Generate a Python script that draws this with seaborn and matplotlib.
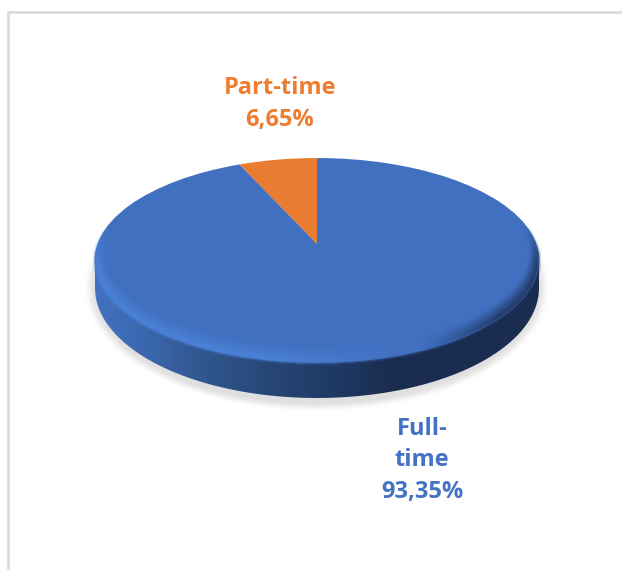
#!/usr/bin/python3

import numpy as np
import seaborn as sns
from matplotlib import pyplot as plt
from matplotlib.colors import LinearSegmentedColormap, to_rgb
from matplotlib.path import Path
from matplotlib.patches import PathPatch
from matplotlib.transforms import Transform

categories = ['Part-time', 'Full-time']
label_names = ['Part-time', 'Full-\ntime']
shares = [6.65, 93.35]
slice_colors = ['#E97C30', '#4170C1']
text_colors = ['#ED7D31', '#4472C4']

sns.set_theme(style='white')
plt.rcParams['font.family'] = ['Open Sans', 'DejaVu Sans']

W, H = 622, 570
cx, cy = 317, 244   # where the slices meet


class Tilt(Transform):
    # perspective view of the unit circle, in pixels
    input_dims = 2
    output_dims = 2

    def transform_non_affine(self, values):
        k = 0.161
        u, v = values[:, 0], values[:, 1]
        return np.column_stack([cx + 219.6 * u / (1 + k * v),
                                cy - 99.8 * v / (1 + k * v)])


fig = plt.figure(figsize=(W / 100, H / 100), dpi=100)
ax = fig.add_axes([0, 0, 1, 1])

wedges, _ = ax.pie(shares, colors=slice_colors, startangle=90,
                   wedgeprops={'linewidth': 0, 'zorder': 3})
for w in wedges:
    w.set_transform(Tilt() + ax.transData)

xx, yy = np.meshgrid(np.arange(W) + 0.5, np.arange(H) + 0.5)
extent = (0, W, H, 0)


def ell(x0, y0, rx, ry):
    return np.sqrt(((xx - x0) / rx) ** 2 + ((yy - y0) / ry) ** 2)


def soften(a, n=5):
    kernel = np.ones(n) / n
    a = np.apply_along_axis(np.convolve, 0, a, kernel, mode='same')
    return np.apply_along_axis(np.convolve, 1, a, kernel, mode='same')


# soft shadow under the disc
f = ell(cx, 288, 231, 121)
img = np.ones((H, W, 4))
img[..., :3] = 0.875
img[..., 3] = soften(np.clip((1 - f) / 0.035, 0, 1), 7)
ax.imshow(img, extent=extent, aspect='auto', zorder=1, interpolation='bilinear')

# side of the disc, dark towards the right
rim_cmap = LinearSegmentedColormap.from_list('rim', [
    (0.0, '#4372C0'), (0.12, '#3A66AC'), (0.24, '#31568F'), (0.38, '#284878'),
    (0.53, '#1F3A66'), (0.65, '#1B2E52'), (1.0, '#1A2C50')])
t = np.linspace(np.pi, 2 * np.pi, 80)
rim_x = cx + 222 * np.cos(t)
rim_y = 288 - 110 * np.sin(t)
edge_x = np.r_[rim_x, rim_x[::-1]]
edge_y = np.r_[rim_y, 260.5 + 0 * rim_y]
rim_clip = PathPatch(Path(np.column_stack([edge_x, edge_y])), transform=ax.transData)
rim = ax.imshow(((xx - 95) / 445).clip(0, 1), extent=extent, aspect='auto',
                cmap=rim_cmap, vmin=0, vmax=1, zorder=2)
rim.set_clip_path(rim_clip)

# rounded edge of the top face
f_in = ell(cx, 252.5, 212, 94.5)
f_out = ell(cx, 260.5, 222.5, 102.5)
band = np.clip((f_in - 1) / np.maximum(f_in - f_out, 1e-6), 0, 1)
light, dark = np.array(to_rgb('#4C85DB')), np.array(to_rgb('#1C3157'))
base = np.array(to_rgb(slice_colors[1]))
to_base = np.clip((xx - 270) / 130, 0, 1)[..., None]
to_dark = np.clip((xx - 420) / 80, 0, 1)[..., None]
img = np.zeros((H, W, 4))
img[..., :3] = (light * (1 - to_base) + base * to_base) * (1 - to_dark) + dark * to_dark
img[..., 3] = soften(band * np.clip((yy - 225) / 35, 0, 1) * (f_out < 1.0))
ax.imshow(img, extent=extent, aspect='auto', zorder=4, interpolation='bilinear')

# labels
label_pos = [(280, 104), (422, 460.5)]
for name, share, col, (x, y) in zip(label_names, shares, text_colors, label_pos):
    ax.text(x, y, '{}\n{:.2f}%'.format(name, share).replace('.', ','), color=col,
            fontsize=17, fontweight='bold', ha='center', va='center',
            linespacing=1.44, zorder=5)

# frame remains of the screenshot
ax.plot([7.5, 7.5, W], [H, 11.5, 11.5], color='#DADADA', lw=1.9, zorder=6,
        solid_joinstyle='miter')

ax.set_aspect('auto')
ax.set_xlim(0, W)
ax.set_ylim(H, 0)
ax.axis('off')

fig.savefig('out.png', dpi=100)
